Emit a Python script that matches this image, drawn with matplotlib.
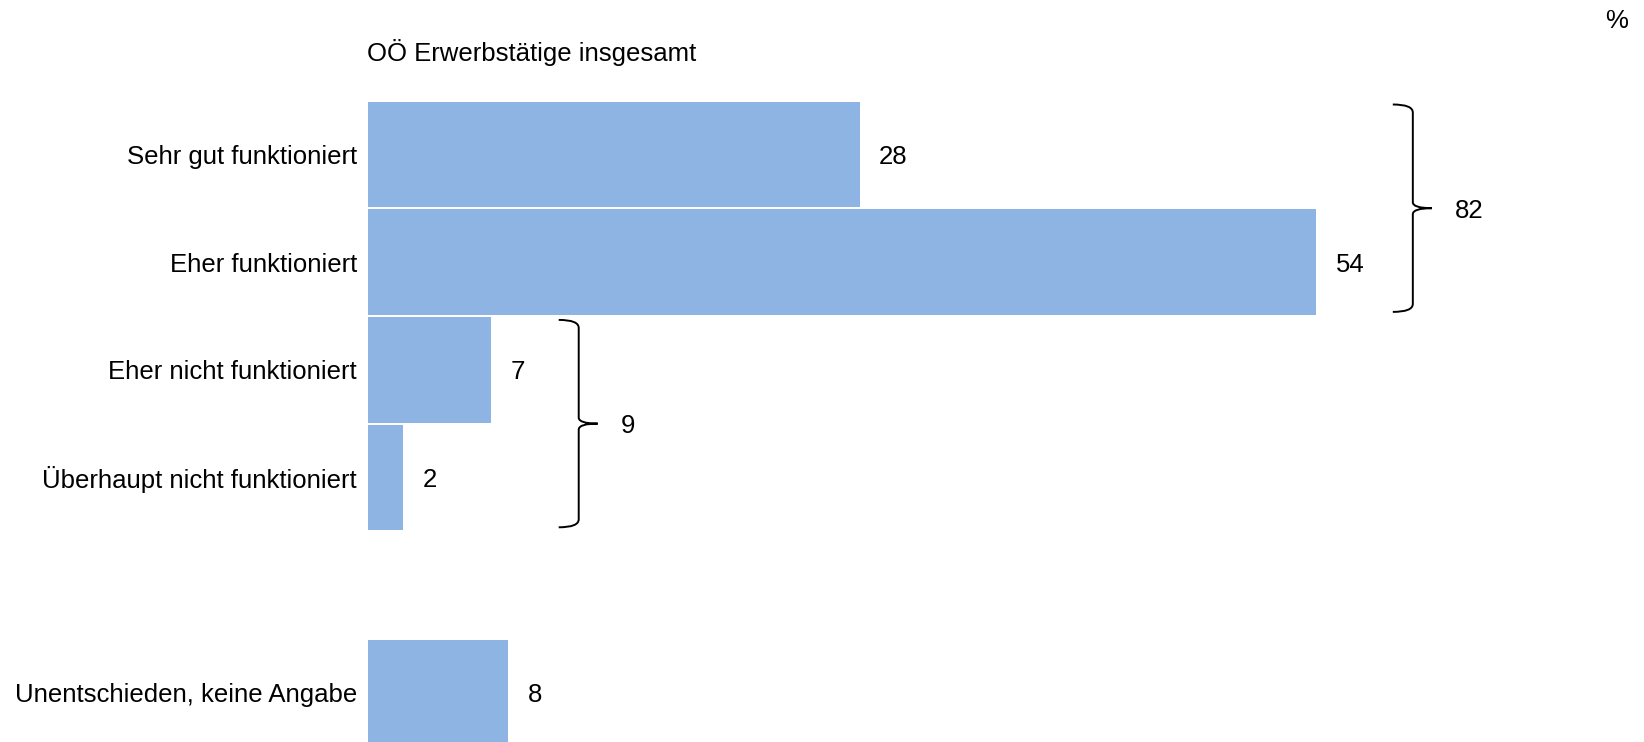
"""Horizontal bar chart: OÖ Erwerbstätige insgesamt, with group braces."""

import numpy as np
import matplotlib
matplotlib.use('Agg')
import matplotlib.pyplot as plt
from matplotlib.path import Path
from matplotlib.patches import PathPatch

CATEGORIES = [
    'Sehr gut funktioniert',
    'Eher funktioniert',
    'Eher nicht funktioniert',
    'Überhaupt nicht funktioniert',
    'Unentschieden, keine Angabe',
]
VALUES = [28, 54, 7, 2, 8]
SLOTS = [0, 1, 2, 3, 5]          # row index of each bar (row 4 left empty)
GROUPS = [[0, 1], [2, 3]]        # bars summarised by a brace
TITLE = 'OÖ Erwerbstätige insgesamt'
UNIT = '%'

BAR_COLOR = '#8EB4E3'
FONT = 18.5
BRACE_GAP = [5.5, 5.0]           # distance of brace from longest bar (in %)

plt.rcParams['font.family'] = ['Liberation Sans', 'DejaVu Sans']

W, H, DPI = 1644, 742, 100
X0_PX = 368            # pixel where the value axis starts
PX_PER_UNIT = 17.56    # horizontal pixels per percent
TOP_PX = 100.5         # pixel of first bar top
ROW_PX = 107.7         # pixels per row


def px_x(p):
    return p / PX_PER_UNIT


def px_y(p):
    return p / ROW_PX


def draw_brace(ax, x, top, bottom, label):
    mid = (top + bottom) / 2
    hook, tip = px_x(20), px_x(19)
    r_end, r_mid = px_y(8), px_y(6)
    verts = [
        (x - hook, top), (x, top), (x, top + r_end),
        (x, mid - r_mid), (x, mid), (x + tip, mid),
        (x - hook, bottom), (x, bottom), (x, bottom - r_end),
        (x, mid + r_mid), (x, mid), (x + tip, mid),
    ]
    codes = [Path.MOVETO, Path.CURVE3, Path.CURVE3,
             Path.LINETO, Path.CURVE3, Path.CURVE3] * 2
    ax.add_patch(PathPatch(Path(verts, codes), fill=False, lw=1.4,
                           edgecolor='black', clip_on=False,
                           capstyle='butt', joinstyle='round'))
    ax.text(x + tip + px_x(23), mid, label, fontsize=FONT,
            ha='left', va='center_baseline', clip_on=False)


fig = plt.figure(figsize=(W / DPI, H / DPI), dpi=DPI)
ax_top = 1 - TOP_PX / H
ax = fig.add_axes([X0_PX / W, 0, 1 - X0_PX / W, ax_top])

ax.barh(SLOTS, VALUES, height=1 - px_y(2.2), color=BAR_COLOR,
        edgecolor='none')

for s, v in zip(SLOTS, VALUES):
    ax.annotate(str(v), (v, s), xytext=(14, 0), textcoords='offset points',
                ha='left', va='center_baseline', fontsize=FONT)

for grp, gap in zip(GROUPS, BRACE_GAP):
    rows = [SLOTS[i] for i in grp]
    vmax = max(VALUES[i] for i in grp)
    total = sum(VALUES[i] for i in grp)
    draw_brace(ax,
               vmax + gap,
               min(rows) - 0.5 + px_y(4),
               max(rows) + 0.5 - px_y(4),
               str(total))

ax.set_xlim(0, (W - X0_PX) / PX_PER_UNIT)
ax.set_ylim(-0.5 + (H - TOP_PX) / ROW_PX, -0.5)
ax.set_yticks(SLOTS)
ax.set_yticklabels(CATEGORIES, fontsize=FONT, va='center_baseline')
ax.tick_params(axis='y', length=0, pad=8)
ax.set_xticks([])
for sp in ax.spines.values():
    sp.set_visible(False)

fig.text(367 / W, 1 - 50 / H, TITLE, fontsize=FONT, ha='left',
         va='center_baseline')
fig.text(1628 / W, 1 - 19 / H, UNIT, fontsize=FONT, ha='right',
         va='center_baseline')

fig.savefig('out.png', dpi=DPI)
